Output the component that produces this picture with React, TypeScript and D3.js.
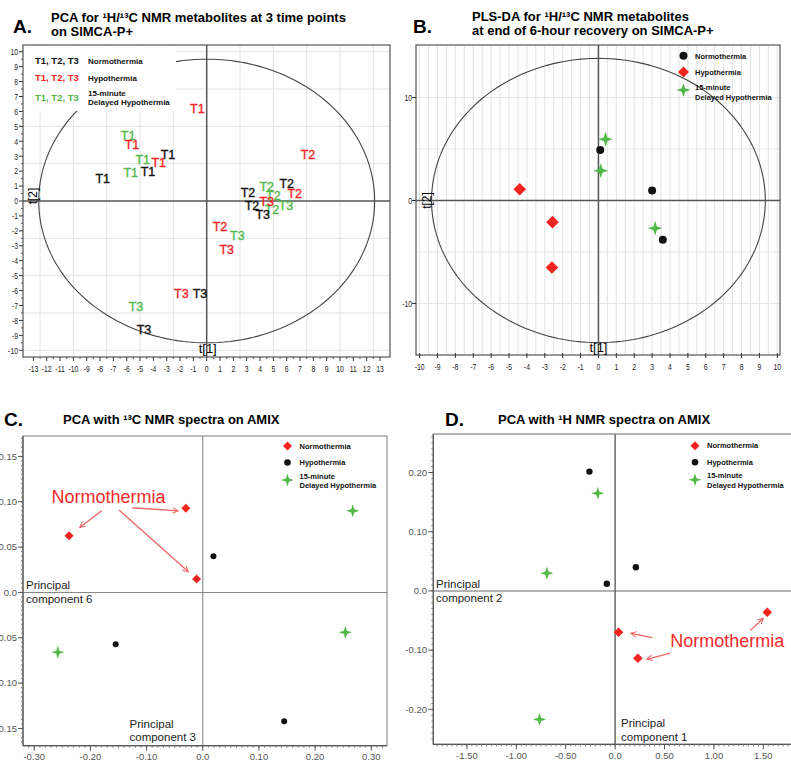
import React from 'react';
import * as d3 from 'd3';

const RED = '#f2241f';
const GREEN = '#52b848';
const BLACK = '#111111';
const SANS = "'Liberation Sans', Arial, Helvetica, sans-serif";

// ---------- Panel A (PCA, SIMCA-P+) ----------
const aNormoLabels = ['T1', 'T1', 'T1', 'T2', 'T2', 'T2', 'T3', 'T3', 'T3'];
const aNormoX = [-7.8, -4.4, -2.9, 6.0, 3.1, 3.4, 4.2, -0.5, -4.7];
const aNormoY = [1.5, 1.95, 3.1, 1.2, 0.6, -0.3, -0.9, -6.2, -8.6];
const aHypoLabels = ['T1', 'T1', 'T1', 'T2', 'T2', 'T2', 'T3', 'T3', 'T3'];
const aHypoX = [-0.7, -5.6, -3.6, 7.6, 6.6, 1.0, 4.5, 1.5, -1.9];
const aHypoY = [6.2, 3.8, 2.6, 3.1, 0.5, -1.7, 0.0, -3.25, -6.2];
const aDelayLabels = ['T1', 'T1', 'T1', 'T2', 'T2', 'T2', 'T3', 'T3', 'T3'];
const aDelayX = [-5.9, -4.8, -5.7, 4.5, 5.0, 4.9, 5.95, 2.3, -5.3];
const aDelayY = [4.4, 2.8, 1.9, 0.95, 0.35, -0.55, -0.3, -2.3, -7.05];
const aXTicks = d3.range(-13, 14);
const aYTicks = d3.range(-10, 11);
const aEllipse = [12.6, 9.5];

// ---------- Panel B (PLS-DA) ----------
const bNormoX = [0.1, 3.0, 3.6];
const bNormoY = [4.9, 0.97, -3.8];
const bHypoX = [-4.4, -2.57, -2.6];
const bHypoY = [1.1, -2.1, -6.5];
const bDelayX = [0.4, 0.13, 3.17];
const bDelayY = [5.95, 2.9, -2.7];
const bXTicks = d3.range(-10, 11);
const bYTicks = [-10, 0, 10];
const bEllipse = [9.33, 13.8];

// ---------- Panel C (13C AMIX) ----------
const cNormoX = [-0.238, -0.03, -0.011];
const cNormoY = [0.0625, 0.0927, 0.0147];
const cHypoX = [0.019, -0.155, 0.145];
const cHypoY = [0.04, -0.057, -0.142];
const cDelayX = [0.267, 0.254, -0.258];
const cDelayY = [0.09, -0.044, -0.066];
const cXTicks = [-0.3, -0.2, -0.1, 0, 0.1, 0.2, 0.3];
const cXTickLabels = ['-0.30', '-0.20', '-0.10', '0.0', '0.10', '0.20', '0.30'];
const cYTicks = [0.15, 0.1, 0.05, 0, -0.05, -0.1, -0.15];
const cYTickLabels = ['0.15', '0.10', '0.05', '0.0', '-0.05', '-0.10', '-0.15'];
const cArrows = [
  [-0.18, 0.09, -0.219, 0.0717],
  [-0.1255, 0.0934, -0.0435, 0.09],
  [-0.149, 0.0908, -0.0257, 0.0227],
];

// ---------- Panel D (1H AMIX) ----------
const dNormoX = [1.54, 0.035, 0.23];
const dNormoY = [-0.036, -0.0698, -0.1137];
const dHypoX = [-0.26, -0.084, 0.21];
const dHypoY = [0.2015, 0.012, 0.04];
const dDelayX = [-0.175, -0.69, -0.765];
const dDelayY = [0.165, 0.03, -0.217];
const dXTicks = [-1.5, -1.0, -0.5, 0, 0.5, 1.0, 1.5];
const dXTickLabels = ['-1.50', '-1.00', '-0.50', '0.0', '0.50', '1.00', '1.50'];
const dYTicks = [0.2, 0.1, 0, -0.1, -0.2];
const dYTickLabels = ['0.20', '0.10', '0.0', '-0.10', '-0.20'];
const dArrows = [
  [0.378, -0.0789, 0.159, -0.0715],
  [0.557, -0.105, 0.321, -0.1154],
  [1.366, -0.067, 1.5, -0.0461],
];

const diamond = (s: number) => `M0,${-s}L${s},0L0,${s}L${-s},0Z`;
const star = (r: number) => {
  const i = r * 0.24;
  return `M0,${-r}L${i},${-i}L${r},0L${i},${i}L0,${r}L${-i},${i}L${-r},0L${-i},${-i}Z`;
};

function Markers({ xs, ys, sx, sy, kind, size }: any) {
  return (
    <g>
      {xs.map((v: number, i: number) => {
        const tx = sx(v), ty = sy(ys[i]);
        if (kind === 'circle') return <circle key={i} cx={tx} cy={ty} r={size} fill={BLACK} />;
        if (kind === 'diamond') return <path key={i} d={diamond(size)} transform={`translate(${tx},${ty})`} fill={RED} />;
        return <path key={i} d={star(size)} transform={`translate(${tx},${ty})`} fill={GREEN} />;
      })}
    </g>
  );
}

function Labels({ labels, xs, ys, sx, sy, color }: any) {
  return (
    <g fontFamily={SANS} fontSize={12.5} fill={color} stroke={color} strokeWidth={0.35} textAnchor="middle">
      {labels.map((l: string, i: number) => (
        <text key={i} x={sx(xs[i])} y={sy(ys[i])} dy="0.36em">{l}</text>
      ))}
    </g>
  );
}

function NarrowText({ x, y, anchor, children }: any) {
  return (
    <text transform={`translate(${x},${y}) scale(0.72,1)`} textAnchor={anchor}>{children}</text>
  );
}

function SmallLegend({ x, y, items }: any) {
  return (
    <g fontFamily={SANS} fontSize={7.5} fontWeight="bold" fill={BLACK}>
      {items.map((it: any, i: number) => {
        const cy = y + i * 16.5;
        const mk = it[0] === 'circle' ? <circle cx={x} cy={cy} r={3.3} fill={BLACK} /> :
          it[0] === 'diamond' ? <path d={diamond(4.5)} transform={`translate(${x},${cy})`} fill={RED} /> :
          <path d={star(6.5)} transform={`translate(${x},${cy + 1})`} fill={GREEN} />;
        return (
          <g key={i}>
            {mk}
            {it[1].map((ln: string, j: number) => (
              <text key={j} x={x + 12} y={cy + 2.7 + (it[1].length > 1 ? -3 + j * 9.5 : 0)}>{ln}</text>
            ))}
          </g>
        );
      })}
    </g>
  );
}

export default function App() {
  const ax = d3.scaleLinear().domain([-13.78, 13.75]).range([23, 390]);
  const ay = d3.scaleLinear().domain([-10.45, 10.45]).range([357, 45]);
  const bx = d3.scaleLinear().domain([-10.2, 10.15]).range([416, 780]);
  const by = d3.scaleLinear().domain([-15.0, 15.1]).range([355, 45]);
  const cx = d3.scaleLinear().domain([-0.32, 0.328]).range([23, 387]);
  const cy = d3.scaleLinear().domain([-0.169, 0.1725]).range([745.7, 436]);
  const dx = d3.scaleLinear().domain([-1.84, 1.78]).range([433.3, 791]);
  const dy = d3.scaleLinear().domain([-0.259, 0.265]).range([744.3, 434]);

  const aGridX = d3.range(-12.5, 12.6, 2.5).filter((v) => Math.abs(v) > 0.01);
  const aGridY = d3.range(-10, 10.1, 2.5).filter((v) => Math.abs(v) > 0.01);
  const bGridX = d3.range(-10, 10.01, 0.5);
  const bGridY = [-10, -5, 5, 10];

  const ellipsePath = (sx: any, sy: any, rx: number, ry: number) => {
    const pts = d3.range(0, 361, 2).map((a) => {
      const t = (a * Math.PI) / 180;
      return [sx(rx * Math.cos(t)), sy(ry * Math.sin(t))] as [number, number];
    });
    return d3.line()(pts) || '';
  };

  const [aR0, aR1] = ax.range();
  const [aB0, aT0] = ay.range();
  const [bL, bR] = bx.range();
  const [bB, bT] = by.range();
  const [cL, cR] = cx.range();
  const [cB, cT] = cy.range();
  const [dL] = dx.range();
  const [dB, dT] = dy.range();

  return (
    <svg width={791} height={762} viewBox="0 0 791 762" style={{ position: 'absolute', left: 0, top: 0, background: '#fff' }}>
      <defs>
        <marker id="arr" viewBox="0 0 10 10" refX="9" refY="5" markerWidth="7" markerHeight="7" orient="auto" markerUnits="userSpaceOnUse">
          <path d="M1,1L9,5L1,9" fill="none" stroke="#f06464" strokeWidth={1.4} />
        </marker>
      </defs>
      <rect x={0} y={0} width={791} height={762} fill="#fff" />

      {/* ================= Panel A ================= */}
      <g>
        <text x={13} y={33} fontFamily={SANS} fontSize={19} fontWeight="bold">A.</text>
        <text x={51} y={22} fontFamily={SANS} fontSize={13} fontWeight="bold">PCA for ¹H/¹³C NMR metabolites at 3 time points</text>
        <text x={51} y={35.5} fontFamily={SANS} fontSize={13} fontWeight="bold">on SIMCA-P+</text>
        {aGridX.map((v) => <line key={'gx' + v} x1={ax(v)} x2={ax(v)} y1={aT0} y2={aB0} stroke="#e3e3e3" />)}
        {aGridY.map((v) => <line key={'gy' + v} x1={aR0} x2={aR1} y1={ay(v)} y2={ay(v)} stroke="#e3e3e3" />)}
        <path d={ellipsePath(ax, ay, aEllipse[0], aEllipse[1])} fill="none" stroke="#444" strokeWidth={1.1} />
        <rect x={24} y={46} width={152} height={65} fill="#fff" />
        <line x1={ax(0)} x2={ax(0)} y1={aT0} y2={aB0} stroke="#555" strokeWidth={1.5} />
        <line x1={aR0} x2={aR1} y1={ay(0)} y2={ay(0)} stroke="#555" strokeWidth={1.5} />
        <rect x={aR0} y={aT0} width={aR1 - aR0} height={aB0 - aT0} fill="none" stroke="#555" strokeWidth={1.2} />
        {aYTicks.map((v) => <line key={'yt' + v} x1={aR0 - 4} x2={aR0} y1={ay(v)} y2={ay(v)} stroke="#333" />)}
        {aYTicks.slice(0, -1).map((v) => <line key={'ytm' + v} x1={aR0 - 2} x2={aR0} y1={ay(v + 0.5)} y2={ay(v + 0.5)} stroke="#555" />)}
        {aXTicks.map((v) => <line key={'xt' + v} x1={ax(v)} x2={ax(v)} y1={aB0} y2={aB0 + 4} stroke="#333" />)}
        {aXTicks.slice(0, -1).map((v) => <line key={'xtm' + v} x1={ax(v + 0.5)} x2={ax(v + 0.5)} y1={aB0} y2={aB0 + 2} stroke="#555" />)}
        <g fontFamily={SANS} fontSize={9.5} fill="#222">
          {aYTicks.map((v) => <NarrowText key={'yl' + v} x={18} y={ay(v) + 3.3} anchor="end">{v}</NarrowText>)}
          {aXTicks.map((v) => <NarrowText key={'xl' + v} x={ax(v)} y={372} anchor="middle">{v}</NarrowText>)}
        </g>
        <text transform={`translate(37,${ay(0) - 5}) rotate(-90)`} fontFamily={SANS} fontSize={12} textAnchor="middle">t[2]</text>
        <text x={ax(0) + 1} y={353} fontFamily={SANS} fontSize={13} textAnchor="middle">t[1]</text>
        <g fontFamily={SANS} fontWeight="bold">
          <text x={35} y={64} fontSize={9.5} fill={BLACK}>T1, T2, T3</text>
          <text x={88} y={64} fontSize={8} fill={BLACK}>Normothermia</text>
          <text x={35} y={80.5} fontSize={9.5} fill={RED}>T1, T2, T3</text>
          <text x={88} y={80.5} fontSize={8} fill={BLACK}>Hypothermia</text>
          <text x={35} y={100.5} fontSize={9.5} fill={GREEN}>T1, T2, T3</text>
          <text x={88} y={96} fontSize={8} fill={BLACK}>15-minute</text>
          <text x={88} y={104.5} fontSize={8} fill={BLACK}>Delayed Hypothermia</text>
        </g>
        <Labels labels={aDelayLabels} xs={aDelayX} ys={aDelayY} sx={ax} sy={ay} color={GREEN} />
        <Labels labels={aNormoLabels} xs={aNormoX} ys={aNormoY} sx={ax} sy={ay} color={BLACK} />
        <Labels labels={aHypoLabels} xs={aHypoX} ys={aHypoY} sx={ax} sy={ay} color={RED} />
      </g>

      {/* ================= Panel B ================= */}
      <g>
        <text x={413} y={33} fontFamily={SANS} fontSize={19} fontWeight="bold">B.</text>
        <text x={472} y={20.5} fontFamily={SANS} fontSize={13} fontWeight="bold">PLS-DA for ¹H/¹³C NMR metabolites</text>
        <text x={472} y={35} fontFamily={SANS} fontSize={13} fontWeight="bold">at end of 6-hour recovery on SIMCA-P+</text>
        {bGridX.map((v) => <line key={'bgx' + v} x1={bx(v)} x2={bx(v)} y1={bT} y2={bB} stroke="#e2e2e2" />)}
        {bGridY.map((v) => <line key={'bgy' + v} x1={bL} x2={bR} y1={by(v)} y2={by(v)} stroke="#e6e6e6" />)}
        <path d={ellipsePath(bx, by, bEllipse[0], bEllipse[1])} fill="none" stroke="#444" strokeWidth={1.1} />
        <line x1={bx(0)} x2={bx(0)} y1={bT} y2={bB} stroke="#555" strokeWidth={1.5} />
        <line x1={bL} x2={bR} y1={by(0)} y2={by(0)} stroke="#555" strokeWidth={1.5} />
        <rect x={bL} y={bT} width={bR - bL} height={bB - bT} fill="none" stroke="#555" strokeWidth={1.2} />
        {bXTicks.map((v) => <line key={'bxt' + v} x1={bx(v)} x2={bx(v)} y1={bB - 2} y2={bB + 3} stroke="#333" />)}
        {bYTicks.map((v) => <line key={'byt' + v} x1={bL - 4} x2={bL} y1={by(v)} y2={by(v)} stroke="#333" />)}
        <g fontFamily={SANS} fontSize={9.5} fill="#222">
          {bYTicks.map((v) => <NarrowText key={'byl' + v} x={412} y={by(v) + 3.3} anchor="end">{v}</NarrowText>)}
          {bXTicks.map((v) => <NarrowText key={'bxl' + v} x={bx(v)} y={370} anchor="middle">{v}</NarrowText>)}
        </g>
        <text transform={`translate(431,${by(0)}) rotate(-90)`} fontFamily={SANS} fontSize={12} textAnchor="middle">t[2]</text>
        <text x={bx(0)} y={352} fontFamily={SANS} fontSize={13} textAnchor="middle">t[1]</text>
        <g fontFamily={SANS} fontSize={7.5} fontWeight="bold" fill={BLACK}>
          <circle cx={683.5} cy={55.7} r={4} fill={BLACK} />
          <text x={695} y={58.5}>Normothermia</text>
          <path d={diamond(5.5)} transform="translate(683.5,72)" fill={RED} />
          <text x={695} y={74.5}>Hypothermia</text>
          <path d={star(7)} transform="translate(683.5,90)" fill={GREEN} />
          <text x={695} y={90}>15-minute</text>
          <text x={695} y={99.5}>Delayed Hypothermia</text>
        </g>
        <Markers xs={bNormoX} ys={bNormoY} sx={bx} sy={by} kind="circle" size={4} />
        <Markers xs={bHypoX} ys={bHypoY} sx={bx} sy={by} kind="diamond" size={6.3} />
        <Markers xs={bDelayX} ys={bDelayY} sx={bx} sy={by} kind="star" size={7.5} />
      </g>

      {/* ================= Panel C ================= */}
      <g>
        <text x={4} y={426} fontFamily={SANS} fontSize={19} fontWeight="bold">C.</text>
        <text x={63} y={424} fontFamily={SANS} fontSize={13} fontWeight="bold">PCA with ¹³C NMR spectra on AMIX</text>
        <line x1={cx(0)} x2={cx(0)} y1={cT} y2={cB} stroke="#888" strokeWidth={1.1} />
        <line x1={cL} x2={cR} y1={cy(0)} y2={cy(0)} stroke="#888" strokeWidth={1.1} />
        <rect x={cL} y={cT} width={cR - cL} height={cB - cT} fill="none" stroke="#888" strokeWidth={1.1} />
        <line x1={cL} x2={cL} y1={cT} y2={cB} stroke="#555" strokeWidth={1.2} />
        <line x1={cL} x2={cR} y1={cB} y2={cB} stroke="#555" strokeWidth={1.2} />
        {d3.range(-0.165, 0.171, 0.005).map((v) => <line key={'cym' + v} x1={cL - 2} x2={cL} y1={cy(v)} y2={cy(v)} stroke="#777" />)}
        {cYTicks.map((v) => <line key={'cyt' + v} x1={cL - 5} x2={cL} y1={cy(v)} y2={cy(v)} stroke="#555" />)}
        {d3.range(-0.31, 0.321, 0.01).map((v) => <line key={'cxm' + v} x1={cx(v)} x2={cx(v)} y1={cB} y2={cB + 2} stroke="#777" />)}
        {cXTicks.map((v) => <line key={'cxt' + v} x1={cx(v)} x2={cx(v)} y1={cB} y2={cB + 5} stroke="#555" />)}
        <g fontFamily={SANS} fontSize={9.5} fill="#555">
          {cYTicks.map((v, i) => <text key={'cyl' + v} x={17} y={cy(v)} dy="0.35em" textAnchor="end">{cYTickLabels[i]}</text>)}
          {cXTicks.map((v, i) => <text key={'cxl' + v} x={cx(v)} y={760} textAnchor="middle">{cXTickLabels[i]}</text>)}
        </g>
        <g fontFamily={SANS} fontSize={11.5} fill="#222">
          <text x={26} y={589}>Principal</text>
          <text x={26} y={602.5}>component 6</text>
          <text x={129.5} y={727.5}>Principal</text>
          <text x={129.5} y={741}>component 3</text>
        </g>
        <SmallLegend x={287.5} y={446} items={[['diamond', ['Normothermia']], ['circle', ['Hypothermia']], ['star', ['15-minute', 'Delayed Hypothermia']]]} />
        {cArrows.map((a, i) => (
          <line key={'ca' + i} x1={cx(a[0])} y1={cy(a[1])} x2={cx(a[2])} y2={cy(a[3])} stroke="#f06464" strokeWidth={1.3} markerEnd="url(#arr)" />
        ))}
        <text x={cx(-0.1676)} y={cy(0.1055)} dy="0.35em" textAnchor="middle" fontFamily={SANS} fontSize={18} fill="#f52a2a">Normothermia</text>
        <Markers xs={cHypoX} ys={cHypoY} sx={cx} sy={cy} kind="circle" size={3} />
        <Markers xs={cNormoX} ys={cNormoY} sx={cx} sy={cy} kind="diamond" size={4.5} />
        <Markers xs={cDelayX} ys={cDelayY} sx={cx} sy={cy} kind="star" size={6.5} />
      </g>

      {/* ================= Panel D ================= */}
      <g>
        <text x={445} y={426} fontFamily={SANS} fontSize={19} fontWeight="bold">D.</text>
        <text x={498} y={424} fontFamily={SANS} fontSize={13} fontWeight="bold">PCA with ¹H NMR spectra on AMIX</text>
        <line x1={dx(0)} x2={dx(0)} y1={dT} y2={dB} stroke="#333" strokeWidth={1.1} />
        <line x1={dL} x2={800} y1={dy(0)} y2={dy(0)} stroke="#666" strokeWidth={1.1} />
        <rect x={dL} y={dT} width={800 - dL} height={dB - dT} fill="none" stroke="#777" strokeWidth={1.1} />
        <line x1={dL} x2={dL} y1={dT} y2={dB} stroke="#555" strokeWidth={1.2} />
        <line x1={dL} x2={800} y1={dB} y2={dB} stroke="#555" strokeWidth={1.2} />
        {d3.range(-0.25, 0.261, 0.01).map((v) => <line key={'dym' + v} x1={dL - 2} x2={dL} y1={dy(v)} y2={dy(v)} stroke="#777" />)}
        {dYTicks.map((v) => <line key={'dyt' + v} x1={dL - 5} x2={dL} y1={dy(v)} y2={dy(v)} stroke="#555" />)}
        {d3.range(-1.8, 1.76, 0.05).map((v) => <line key={'dxm' + v} x1={dx(v)} x2={dx(v)} y1={dB} y2={dB + 2} stroke="#777" />)}
        {dXTicks.map((v) => <line key={'dxt' + v} x1={dx(v)} x2={dx(v)} y1={dB} y2={dB + 5} stroke="#555" />)}
        <g fontFamily={SANS} fontSize={9.5} fill="#555">
          {dYTicks.map((v, i) => <text key={'dyl' + v} x={427} y={dy(v)} dy="0.35em" textAnchor="end">{dYTickLabels[i]}</text>)}
          {dXTicks.map((v, i) => <text key={'dxl' + v} x={dx(v)} y={759} textAnchor="middle">{dXTickLabels[i]}</text>)}
        </g>
        <g fontFamily={SANS} fontSize={11.5} fill="#222">
          <text x={436} y={588}>Principal</text>
          <text x={436} y={601.5}>component 2</text>
          <text x={621} y={727}>Principal</text>
          <text x={621} y={740.5}>component 1</text>
        </g>
        <SmallLegend x={695} y={445.7} items={[['diamond', ['Normothermia']], ['circle', ['Hypothermia']], ['star', ['15-minute', 'Delayed Hypothermia']]]} />
        {dArrows.map((a, i) => (
          <line key={'da' + i} x1={dx(a[0])} y1={dy(a[1])} x2={dx(a[2])} y2={dy(a[3])} stroke="#f06464" strokeWidth={1.3} markerEnd="url(#arr)" />
        ))}
        <text x={dx(0.557)} y={dy(-0.084)} dy="0.35em" fontFamily={SANS} fontSize={18} fill="#f52a2a">Normothermia</text>
        <Markers xs={dHypoX} ys={dHypoY} sx={dx} sy={dy} kind="circle" size={3.2} />
        <Markers xs={dNormoX} ys={dNormoY} sx={dx} sy={dy} kind="diamond" size={4.8} />
        <Markers xs={dDelayX} ys={dDelayY} sx={dx} sy={dy} kind="star" size={6.5} />
      </g>
    </svg>
  );
}
